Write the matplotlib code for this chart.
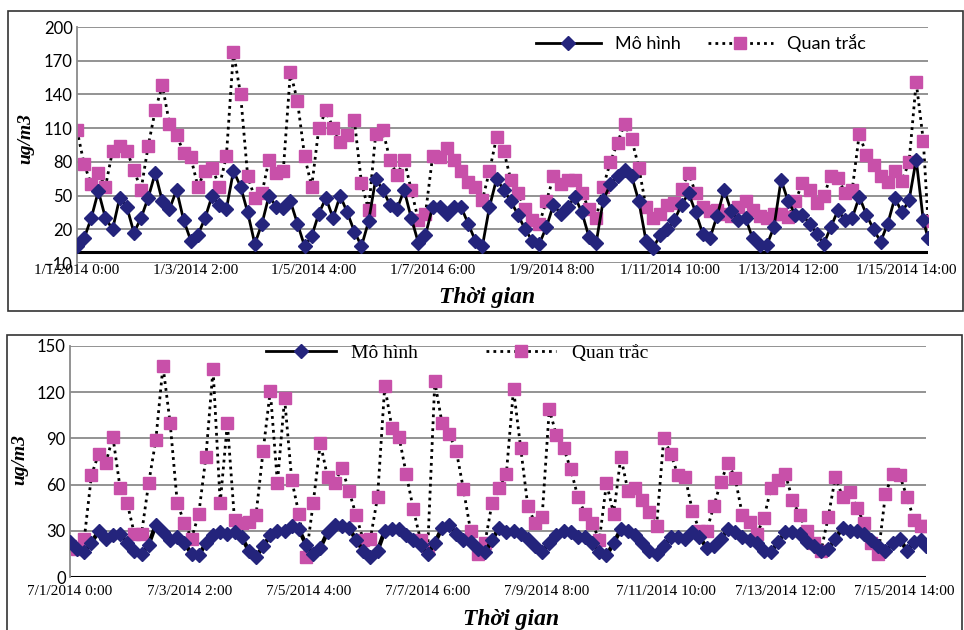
import matplotlib
matplotlib.use("Agg")
import matplotlib.pyplot as plt
from matplotlib.lines import Line2D
from matplotlib.patches import Rectangle
import numpy as np

# gio (moi 3 gio + diem cuoi)
hours = list(range(0, 360, 3)) + [359]

# thang 1/2014
mo_hinh_t1 = [5, 12, 30, 54, 30, 20, 48, 40, 17, 30,
              48, 70, 45, 38, 55, 28, 10, 15, 30, 50,
              42, 38, 72, 58, 35, 7, 25, 50, 40, 39,
              45, 25, 5, 14, 34, 48, 30, 50, 35, 18,
              5, 27, 65, 55, 42, 38, 55, 30, 8, 15,
              40, 40, 34, 40, 40, 25, 10, 5, 40, 65,
              55, 45, 33, 20, 10, 7, 22, 42, 34, 40,
              49, 35, 13, 8, 46, 60, 67, 73, 67, 45,
              10, 3, 15, 20, 28, 42, 52, 35, 16, 12,
              32, 55, 36, 28, 30, 12, 6, 6, 22, 64,
              45, 33, 33, 25, 16, 7, 22, 37, 28, 30,
              49, 33, 20, 9, 25, 48, 35, 46, 82, 28,
              12]
quan_trac_t1 = [108, 78, 60, 70, 58, 90, 94, 90, 73, 55,
                94, 126, 148, 114, 104, 88, 84, 58, 72, 75,
                58, 85, 178, 140, 67, 48, 52, 82, 70, 72,
                160, 134, 85, 58, 110, 126, 110, 98, 104, 117,
                61, 37, 105, 108, 82, 68, 82, 55, 28, 34,
                85, 84, 92, 82, 72, 62, 58, 46, 72, 102,
                90, 64, 52, 38, 28, 25, 45, 67, 60, 64,
                64, 52, 38, 30, 58, 80, 97, 114, 100, 75,
                40, 30, 34, 42, 43, 56, 70, 52, 40, 36,
                37, 34, 32, 40, 45, 37, 32, 30, 34, 34,
                31, 45, 61, 55, 43, 50, 67, 66, 52, 55,
                105, 86, 77, 67, 62, 72, 63, 80, 151, 99,
                27]

# thang 7/2014
mo_hinh_t7 = [23, 18, 16, 22, 30, 25, 27, 28, 22, 17,
              15, 21, 34, 29, 24, 26, 22, 15, 14, 22,
              27, 29, 28, 29, 26, 17, 13, 20, 27, 30,
              30, 33, 31, 21, 15, 19, 29, 34, 33, 32,
              24, 17, 13, 17, 30, 31, 31, 27, 24, 21,
              15, 22, 32, 34, 28, 24, 23, 18, 16, 24,
              32, 29, 30, 28, 25, 20, 16, 22, 27, 30,
              29, 26, 26, 22, 16, 14, 22, 31, 30, 27,
              22, 17, 15, 20, 26, 26, 25, 29, 26, 19,
              20, 25, 31, 29, 26, 24, 22, 17, 16, 23,
              29, 29, 28, 23, 20, 17, 18, 25, 32, 30,
              30, 28, 24, 20, 17, 22, 25, 17, 23, 24,
              20]
quan_trac_t7 = [20, 18, 25, 66, 80, 74, 91, 58, 48, 28,
                28, 61, 89, 137, 100, 48, 35, 25, 41, 78,
                135, 48, 100, 37, 35, 36, 40, 82, 121, 61,
                116, 63, 41, 13, 48, 87, 65, 61, 71, 56,
                40, 24, 25, 52, 124, 97, 91, 67, 44, 24,
                18, 127, 100, 93, 82, 57, 30, 15, 22, 48,
                58, 67, 122, 84, 46, 35, 39, 109, 92, 84,
                70, 52, 41, 35, 24, 61, 41, 78, 56, 58,
                50, 42, 33, 90, 80, 66, 65, 43, 30, 30,
                46, 62, 74, 64, 40, 36, 28, 38, 58, 63,
                67, 50, 40, 30, 22, 17, 39, 65, 52, 55,
                45, 35, 22, 15, 54, 67, 66, 52, 37, 33,
                33]

tick_pos = [0, 50, 100, 150, 200, 250, 300, 350]
labels_t1 = ["1/1/2014 0:00", "1/3/2014 2:00", "1/5/2014 4:00", "1/7/2014 6:00",
             "1/9/2014 8:00", "1/11/2014 10:00", "1/13/2014 12:00", "1/15/2014 14:00"]
labels_t7 = ["7/1/2014 0:00", "7/3/2014 2:00", "7/5/2014 4:00", "7/7/2014 6:00",
             "7/9/2014 8:00", "7/11/2014 10:00", "7/13/2014 12:00", "7/15/2014 14:00"]

navy = "#24247c"
magenta = "#c850a9"
serif = "Liberation Serif"
sans = "Lato"

fig = plt.figure(figsize=(9.64, 6.30), dpi=100)

# khung vien
fig.patches.append(Rectangle((0.0083, 0.5063), 0.9907, 0.476, transform=fig.transFigure,
                             fill=False, edgecolor="#333333", lw=1.2))
fig.patches.append(Rectangle((0.0073, -0.05), 0.991, 0.5183, transform=fig.transFigure,
                             fill=False, edgecolor="#333333", lw=1.2))


def ve(ax, mh, qt, yticks, ylim, xlabels, ms_sq, ms_di, lw_mh):
    ax.set_xlim(0, 359)
    ax.set_ylim(*ylim)
    ax.set_yticks(yticks)
    for y in yticks:
        ax.axhline(y, color="#8a8a8a", lw=1.3, zorder=0)
    ax.axhline(0, color="black", lw=2.2, zorder=1)
    ax.plot(hours, mh, color="black", lw=lw_mh, marker="D", ms=ms_di,
            markerfacecolor=navy, markeredgecolor=navy, zorder=3)
    ax.plot(hours, qt, color="black", lw=2.0, ls=(0, (1, 1.5)), marker="s", ms=ms_sq,
            markerfacecolor=magenta, markeredgecolor=magenta, zorder=2)
    for s in ["top", "right", "bottom"]:
        ax.spines[s].set_visible(False)
    ax.spines["left"].set_color("#8a8a8a")
    ax.spines["left"].set_linewidth(1.3)
    ax.set_xticks(tick_pos)
    ax.set_xticklabels(xlabels, fontfamily=serif, fontsize=11)
    for t in ax.get_yticklabels():
        t.set_fontfamily(sans)
        t.set_fontsize(12)
    ax.tick_params(length=0, pad=3)


# bieu do thang 1
ax1 = fig.add_axes([0.0799, 0.5825, 0.8828, 0.3746])
ve(ax1, mo_hinh_t1, quan_trac_t1, [-10, 20, 50, 80, 110, 140, 170, 200], (-10, 200),
   labels_t1, 9, 7, 2.0)
ax1.tick_params(axis="x", pad=1)
fig.text(0.027, 0.78, "ug/m3", rotation=90, ha="center", va="center",
         fontfamily=serif, fontsize=14, fontweight="bold", fontstyle="italic")
fig.text(0.505, 0.528, "Thời gian", ha="center", va="center",
         fontfamily=serif, fontsize=17, fontweight="bold", fontstyle="italic")

h_mh = Line2D([], [], color="black", lw=2, marker="D", ms=7,
              markerfacecolor=navy, markeredgecolor=navy)
h_qt = Line2D([], [], color="black", lw=2, ls=(0, (1, 1.5)), marker="s", ms=9,
              markerfacecolor=magenta, markeredgecolor=magenta)
fig.legend([h_mh, h_qt], ["Mô hình", "Quan trắc"], loc="center", ncol=2,
           bbox_to_anchor=(0.727, 0.932), frameon=False, handlelength=3.6,
           columnspacing=1.5, prop={"family": sans, "size": 13})

# bieu do thang 7
ax2 = fig.add_axes([0.0726, 0.0841, 0.888, 0.3667])
ve(ax2, mo_hinh_t7, quan_trac_t7, [0, 30, 60, 90, 120, 150], (0, 150),
   labels_t7, 9, 7, 3.0)
ax2.tick_params(axis="x", pad=6)
fig.text(0.021, 0.27, "ug/m3", rotation=90, ha="center", va="center",
         fontfamily=serif, fontsize=14, fontweight="bold", fontstyle="italic")
fig.text(0.53, 0.017, "Thời gian", ha="center", va="center",
         fontfamily=serif, fontsize=17, fontweight="bold", fontstyle="italic")
fig.legend([h_mh, h_qt], ["Mô hình", "Quan trắc"], loc="center", ncol=2,
           bbox_to_anchor=(0.474, 0.44), frameon=False, handlelength=3.6,
           columnspacing=3.5, prop={"family": serif, "size": 14})

plt.savefig("out.png", dpi=100)
